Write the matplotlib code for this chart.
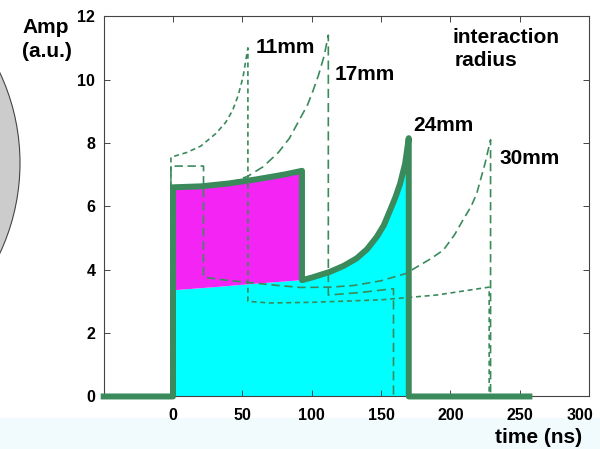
import matplotlib

matplotlib.use("Agg")
import matplotlib.pyplot as plt
from matplotlib.patches import Ellipse, Rectangle
from matplotlib.transforms import ScaledTranslation

plt.rcParams["font.family"] = ["Liberation Sans", "DejaVu Sans"]

# 24 mm signal (thick line): electron + hole phase, then electron-only phase
t24_first = [0, 20, 40, 60, 80, 93]
a24_first = [6.6, 6.63, 6.72, 6.85, 7.0, 7.12]
t24_second = [93, 100, 113, 123, 132.5, 140, 147, 152, 156.6, 160.5, 163.8, 167.4, 170]
a24_second = [3.67, 3.75, 3.93, 4.12, 4.36, 4.65, 5.04, 5.4, 5.88, 6.3, 6.72, 7.35, 8.15]
t24_base_left = [-50, 0]
t24_base_right = [170, 257]

# boundary between the magenta and cyan areas
t_split = [0, 30, 60, 93]
a_split = [3.35, 3.45, 3.56, 3.67]

# 11 mm signal (short dashes)
t11_rise = [-1.5, 10, 20, 31, 38, 43, 47, 50.5, 54]
a11_rise = [7.55, 7.7, 7.9, 8.3, 8.65, 9.03, 9.5, 10.08, 11.0]
t11_tail = [54, 70, 100, 150, 190, 228]
a11_tail = [3.0, 2.95, 2.97, 3.05, 3.2, 3.45]

# 17 mm signal (dashes)
t17_rise = [0, 20, 35, 45, 54, 65, 76, 84, 92, 97, 101, 105, 109, 112]
a17_rise = [6.6, 6.65, 6.72, 6.8, 6.95, 7.25, 7.7, 8.15, 8.8, 9.2, 9.65, 10.15, 10.75, 11.4]
t17_tail = [112, 135, 159]
a17_tail = [3.2, 3.28, 3.4]

# 30 mm signal (dashes)
t30_flat = [-1.5, 22]
a30_flat = [7.27, 7.27]
t30_tail = [22, 26, 40, 54, 76, 92, 113, 130, 150, 168, 176, 186, 195, 203, 209, 215, 219, 225, 229]
a30_tail = [3.78, 3.74, 3.66, 3.6, 3.5, 3.44, 3.45, 3.5, 3.65, 3.88, 4.09, 4.35, 4.62, 5.1, 5.56, 6.0, 6.4, 7.35, 8.1]

labels = ["11mm", "17mm", "24mm", "30mm"]
label_px = [(256, 53), (335, 80), (413, 131), (499, 164)]

green = "#3a8a5c"
W, H = 600, 449


def fx(px):
    return px / W


def fy(py):
    return 1 - py / H


fig = plt.figure(figsize=(6.0, 4.49), dpi=100)
fig.patches.append(Rectangle((0, 0), 1, fy(418), transform=fig.transFigure,
                             color="#f1fafd", zorder=-5))
fig.patches.append(Ellipse((fx(-192.5), fy(163)), 425 / W, 425 / H, transform=fig.transFigure,
                           facecolor="#cccccc", edgecolor="#444444", linewidth=0.8, zorder=-4))

ax = fig.add_axes([0.1728, 0.117, 0.8089, 0.847])
ax.set_facecolor("white")

# filled areas
cyan_t = [t_split[0]] + t_split + t24_second[1:] + [t24_second[-1]]
cyan_a = [0] + a_split + a24_second[1:] + [0]
ax.fill(cyan_t, cyan_a, color="#00ffff", linewidth=0, zorder=1)
mag_t = t24_first + t_split[::-1]
mag_a = a24_first + a_split[::-1]
ax.fill(mag_t, mag_a, color="#f425f4", linewidth=0, zorder=1)

# dashed signals for other radii
t11 = [t11_rise[0]] + t11_rise + t11_tail + [t11_tail[-1]]
a11 = [0] + a11_rise + a11_tail + [0]
ax.plot(t11, a11, color=green, lw=1.2, dashes=(3, 2.2), zorder=2)

t17 = t17_rise + t17_tail + [t17_tail[-1]]
a17 = a17_rise + a17_tail + [0]
ax.plot(t17, a17, color=green, lw=1.2, dashes=(5.5, 3), zorder=2)

t30 = [t30_flat[0]] + t30_flat + t30_tail + [t30_tail[-1]]
a30 = [0] + a30_flat + a30_tail + [0]
ax.plot(t30, a30, color=green, lw=1.2, dashes=(5, 2.8), zorder=2)

# thick 24 mm signal
t24 = t24_base_left + t24_first + t24_second + t24_base_right
a24 = [0, 0] + a24_first + a24_second + [0, 0]
ax.plot(t24, a24, color=green, lw=4.3, solid_joinstyle="round", zorder=3, clip_on=False)

ax.set_xlim(-50, 300)
ax.set_ylim(0, 12)
ax.set_xticks([0, 50, 100, 150, 200, 250, 300])
ax.set_yticks([0, 2, 4, 6, 8, 10, 12])
ax.tick_params(direction="in", top=True, right=True, length=4, width=0.7, colors="#444444",
               labelcolor="black", labelsize=11.5, pad=6)
ax.tick_params(axis="x", pad=8)
for lab in ax.get_xticklabels() + ax.get_yticklabels():
    lab.set_fontweight("bold")
last = ax.xaxis.get_major_ticks()[-1].label1
last.set_transform(last.get_transform() + ScaledTranslation(-9 / 100, 0, fig.dpi_scale_trans))
for sp in ax.spines.values():
    sp.set_color("#444444")
    sp.set_linewidth(0.8)

text_kw = dict(fontsize=15, fontweight="bold", va="baseline", ha="left")
for lab, (px, py) in zip(labels, label_px):
    fig.text(fx(px), fy(py), lab, **text_kw)
fig.text(fx(452), fy(43), "interaction", **text_kw)
fig.text(fx(455), fy(66), "radius", **text_kw)
fig.text(fx(22), fy(33), "Amp", **text_kw)
fig.text(fx(22), fy(57), "(a.u.)", **text_kw)
fig.text(fx(582), fy(443), "time (ns)", fontsize=15, fontweight="bold", va="baseline", ha="right")

fig.savefig("out.png", dpi=100)
